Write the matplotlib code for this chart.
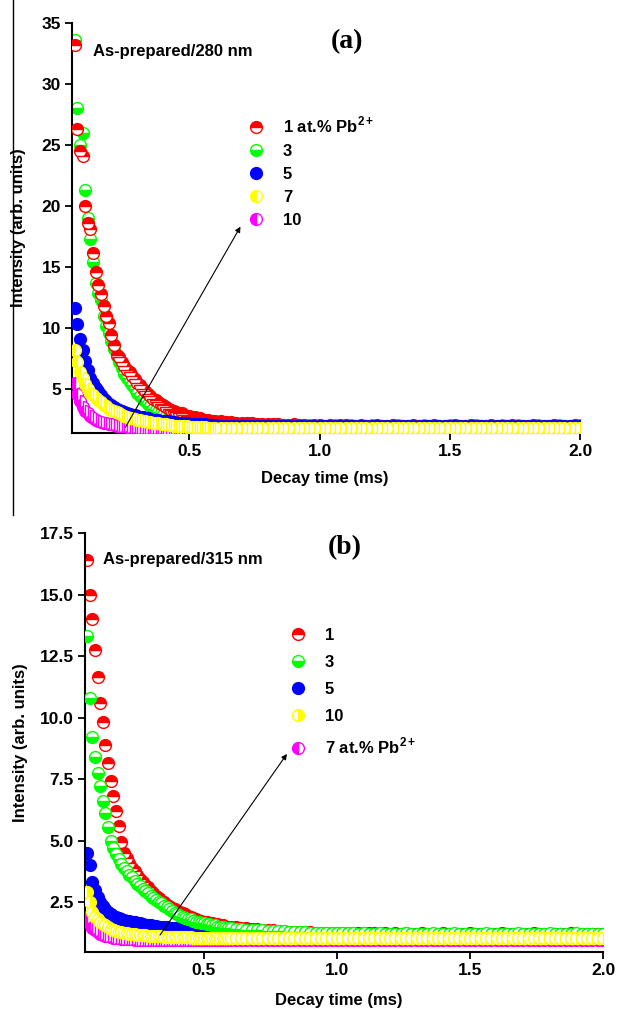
import numpy as np
import matplotlib
matplotlib.use("Agg")
import matplotlib.pyplot as plt
from matplotlib.lines import Line2D

plt.rcParams['font.family'] = ['Liberation Sans', 'DejaVu Sans']
plt.rcParams['font.weight'] = 'bold'
plt.rcParams['mathtext.fontset'] = 'custom'
plt.rcParams['mathtext.bf'] = 'Liberation Sans:bold'
plt.rcParams['mathtext.rm'] = 'Liberation Sans:bold'

# ---------------- data ----------------
# decay times (ms): 0.06..0.60 step 0.01, then 0.62..2.00 step 0.02
TIME = np.round(np.concatenate([np.arange(0.06, 0.6001, 0.01),
                                np.arange(0.62, 2.0001, 0.02)]), 3)

# Panel (a): As-prepared / 280 nm
a_red = [33.2, 26.3, 24.5, 24.1, 20.0, 18.6, 18.1, 16.1, 14.6, 13.5,
         12.8, 11.8, 11.0, 10.4, 9.4, 8.6, 7.8, 7.6, 7.2, 6.9,
         6.6, 6.4, 6.1, 5.8, 5.5, 5.3, 5.0, 4.8, 4.6, 4.4,
         4.2, 4.1, 3.9, 3.8, 3.7, 3.5, 3.4, 3.3, 3.2, 3.1,
         3.0, 3.0, 2.9, 2.8, 2.8, 2.7, 2.7, 2.6, 2.6, 2.5,
         2.5, 2.5, 2.4, 2.4, 2.4,
         2.35, 2.3, 2.3, 2.25, 2.25, 2.2, 2.2, 2.15, 2.15, 2.1,
         2.1, 2.1, 2.05, 2.05, 2.1, 2.05, 2.05, 2.0, 2.05, 2.05,
         2.0, 2.05, 2.0, 2.05, 2.05, 2.0, 2.0, 2.05, 2.0, 2.0,
         2.05, 2.0, 2.0, 2.05, 2.0, 2.0, 2.0, 2.05, 2.0, 2.0,
         2.0, 2.05, 2.0, 2.0, 2.0, 2.05, 2.0, 2.0, 2.05, 2.0,
         2.0, 2.0, 2.05, 2.0, 2.0, 2.0, 2.05, 2.0, 2.0, 2.0,
         2.05, 2.0, 2.0, 2.0, 2.05, 2.0, 2.0, 2.0, 2.05, 2.0]
a_green = [33.6, 28.0, 25.0, 26.0, 21.3, 19.0, 17.3, 15.4, 13.7, 12.9,
           12.3, 11.0, 10.2, 9.6, 8.9, 8.3, 7.7, 7.2, 6.7, 6.2,
           5.9, 5.6, 5.3, 5.0, 4.7, 4.4, 4.2, 4.0, 3.8, 3.6,
           3.4, 3.3, 3.1, 3.0, 2.9, 2.8, 2.7, 2.6, 2.5, 2.5,
           2.4, 2.4, 2.3, 2.3, 2.3, 2.2, 2.2, 2.2, 2.2, 2.15,
           2.15, 2.15, 2.1, 2.1, 2.1,
           2.1, 2.05, 2.05, 2.05, 2.0, 2.05, 2.0, 2.05, 2.0, 2.0,
           2.05, 2.0, 2.0, 2.0, 2.05, 2.0, 2.0, 2.05, 2.0, 2.0,
           2.0, 2.0, 2.05, 2.0, 2.0, 2.05, 2.0, 2.0, 2.0, 2.05,
           2.0, 2.0, 2.0, 2.05, 2.05, 2.0, 2.0, 2.0, 2.0, 2.05,
           2.0, 2.0, 2.0, 2.0, 2.05, 2.0, 2.0, 2.0, 2.05, 2.05,
           2.0, 2.0, 2.0, 2.0, 2.05, 2.0, 2.0, 2.05, 2.0, 2.0,
           2.0, 2.05, 2.0, 2.0, 2.0, 2.05, 2.0, 2.0, 2.0, 2.05]
a_blue = [11.6, 10.3, 9.1, 8.2, 7.3, 6.6, 5.9, 5.5, 5.1, 4.8,
          4.5, 4.2, 4.0, 3.8, 3.7, 3.5, 3.4, 3.3, 3.2, 3.1,
          3.0, 2.95, 2.9, 2.85, 2.8, 2.75, 2.7, 2.65, 2.6, 2.55,
          2.5, 2.5, 2.45, 2.4, 2.4, 2.35, 2.35, 2.3, 2.3, 2.25,
          2.25, 2.2, 2.2, 2.2, 2.15, 2.15, 2.15, 2.1, 2.1, 2.1,
          2.1, 2.05, 2.05, 2.05, 2.05,
          2.0, 2.0, 2.0, 2.0, 1.95, 2.0, 2.0, 1.95, 2.0, 2.0,
          1.95, 2.0, 1.95, 2.0, 1.95, 1.95, 2.0, 1.95, 1.95, 1.95,
          1.95, 1.95, 1.95, 1.95, 1.95, 1.95, 1.95, 1.95, 1.95, 1.95,
          1.95, 1.95, 1.95, 1.95, 1.95, 1.95, 1.95, 1.95, 1.95, 1.95,
          1.95, 1.95, 1.95, 1.95, 1.95, 1.95, 1.95, 1.95, 1.95, 1.95,
          1.95, 1.95, 1.95, 1.95, 1.95, 1.95, 1.95, 1.95, 1.95, 1.95,
          1.95, 1.95, 1.95, 1.95, 1.95, 1.95, 1.95, 1.95, 1.95, 1.95]
a_yellow = [8.2, 7.2, 6.4, 5.9, 5.4, 5.0, 4.7, 4.5, 4.3, 4.1,
            3.9, 3.7, 3.6, 3.4, 3.3, 3.2, 3.1, 3.0, 2.9, 2.8,
            2.7, 2.65, 2.6, 2.55, 2.5, 2.45, 2.4, 2.35, 2.3, 2.3,
            2.25, 2.2, 2.2, 2.15, 2.1, 2.1, 2.05, 2.05, 2.0, 2.0,
            2.0, 1.95, 1.95, 1.95, 1.9, 1.9, 1.9, 1.9, 1.9, 1.9,
            1.9, 1.85, 1.85, 1.85, 1.85,
            1.85, 1.85, 1.85, 1.85, 1.85, 1.85, 1.85, 1.8, 1.85, 1.85,
            1.8, 1.85, 1.85, 1.8, 1.85, 1.8, 1.85, 1.8, 1.85, 1.8,
            1.85, 1.8, 1.8, 1.85, 1.8, 1.8, 1.85, 1.8, 1.8, 1.8,
            1.85, 1.8, 1.8, 1.8, 1.8, 1.85, 1.8, 1.8, 1.8, 1.8,
            1.8, 1.85, 1.8, 1.8, 1.8, 1.8, 1.8, 1.85, 1.8, 1.8,
            1.8, 1.8, 1.8, 1.85, 1.8, 1.8, 1.8, 1.8, 1.8, 1.85,
            1.8, 1.8, 1.8, 1.8, 1.8, 1.85, 1.8, 1.8, 1.8, 1.8]
a_magenta = [5.5, 4.6, 4.0, 3.5, 3.2, 3.0, 2.8, 2.6, 2.5, 2.4,
             2.3, 2.25, 2.2, 2.15, 2.1, 2.05, 2.0, 2.0, 1.95, 1.95,
             1.9, 1.9, 1.9, 1.85, 1.85, 1.85, 1.85, 1.8, 1.8, 1.8,
             1.8, 1.8, 1.8, 1.8, 1.75, 1.75, 1.75, 1.75, 1.75, 1.75,
             1.75, 1.75, 1.75, 1.75, 1.75, 1.75, 1.75, 1.75, 1.75, 1.75,
             1.75, 1.75, 1.75, 1.75, 1.75,
             1.75, 1.75, 1.75, 1.75, 1.75, 1.75, 1.75, 1.75, 1.75, 1.75,
             1.75, 1.75, 1.75, 1.75, 1.75, 1.75, 1.75, 1.75, 1.75, 1.75,
             1.75, 1.75, 1.75, 1.75, 1.75, 1.75, 1.75, 1.75, 1.75, 1.75,
             1.75, 1.75, 1.75, 1.75, 1.75, 1.75, 1.75, 1.75, 1.75, 1.75,
             1.75, 1.75, 1.75, 1.75, 1.75, 1.75, 1.75, 1.75, 1.75, 1.75,
             1.75, 1.75, 1.75, 1.75, 1.75, 1.75, 1.75, 1.75, 1.75, 1.75,
             1.75, 1.75, 1.75, 1.75, 1.75, 1.75, 1.75, 1.75, 1.75, 1.75]

# Panel (b): As-prepared / 315 nm
b_red = [16.4, 15.0, 14.0, 12.75, 11.65, 10.6, 9.8, 8.9, 8.15, 7.4,
         6.8, 6.2, 5.6, 4.95, 4.5, 4.3, 4.1, 3.9, 3.75, 3.6,
         3.45, 3.3, 3.2, 3.1, 2.95, 2.85, 2.75, 2.65, 2.55, 2.5,
         2.4, 2.35, 2.25, 2.2, 2.15, 2.1, 2.05, 2.0, 1.95, 1.9,
         1.85, 1.8, 1.75, 1.75, 1.7, 1.7, 1.65, 1.65, 1.6, 1.6,
         1.55, 1.55, 1.5, 1.5, 1.5,
         1.48, 1.46, 1.44, 1.42, 1.4, 1.38, 1.36, 1.35, 1.34, 1.32,
         1.3, 1.3, 1.28, 1.28, 1.27, 1.26, 1.25, 1.25, 1.25, 1.24,
         1.24, 1.25, 1.24, 1.23, 1.24, 1.23, 1.23, 1.24, 1.23, 1.22,
         1.23, 1.22, 1.23, 1.22, 1.22, 1.23, 1.22, 1.22, 1.22, 1.23,
         1.22, 1.22, 1.22, 1.22, 1.23, 1.22, 1.22, 1.22, 1.22, 1.22,
         1.23, 1.22, 1.22, 1.22, 1.22, 1.22, 1.23, 1.22, 1.22, 1.22,
         1.22, 1.22, 1.22, 1.23, 1.22, 1.22, 1.22, 1.22, 1.22, 1.22]
b_green = [13.3, 10.8, 9.2, 8.4, 7.75, 7.2, 6.6, 6.1, 5.55, 5.0,
           4.7, 4.45, 4.25, 4.05, 3.9, 3.75, 3.6, 3.5, 3.35, 3.25,
           3.15, 3.05, 2.95, 2.85, 2.75, 2.65, 2.6, 2.5, 2.45, 2.35,
           2.3, 2.2, 2.15, 2.05, 2.0, 1.95, 1.9, 1.85, 1.8, 1.8,
           1.75, 1.7, 1.7, 1.65, 1.65, 1.6, 1.6, 1.55, 1.55, 1.5,
           1.5, 1.5, 1.45, 1.45, 1.45,
           1.42, 1.4, 1.38, 1.37, 1.36, 1.35, 1.34, 1.33, 1.32, 1.31,
           1.3, 1.29, 1.28, 1.27, 1.26, 1.26, 1.25, 1.25, 1.24, 1.24,
           1.23, 1.23, 1.23, 1.22, 1.23, 1.22, 1.22, 1.23, 1.22, 1.22,
           1.22, 1.22, 1.23, 1.22, 1.22, 1.22, 1.22, 1.23, 1.22, 1.22,
           1.22, 1.23, 1.22, 1.22, 1.22, 1.22, 1.22, 1.23, 1.22, 1.22,
           1.22, 1.22, 1.22, 1.23, 1.22, 1.22, 1.22, 1.22, 1.22, 1.23,
           1.22, 1.22, 1.22, 1.22, 1.23, 1.22, 1.22, 1.22, 1.22, 1.22]
b_blue = [4.5, 4.0, 3.3, 3.0, 2.7, 2.5, 2.35, 2.2, 2.1, 2.0,
          1.95, 1.9, 1.85, 1.8, 1.78, 1.75, 1.72, 1.7, 1.68, 1.65,
          1.63, 1.6, 1.58, 1.56, 1.55, 1.53, 1.52, 1.5, 1.49, 1.48,
          1.47, 1.46, 1.45, 1.44, 1.43, 1.42, 1.41, 1.4, 1.39, 1.38,
          1.37, 1.36, 1.35, 1.35, 1.34, 1.33, 1.33, 1.32, 1.32, 1.31,
          1.31, 1.3, 1.3, 1.29, 1.29,
          1.28, 1.27, 1.26, 1.25, 1.24, 1.23, 1.22, 1.21, 1.2, 1.2,
          1.2, 1.2, 1.2, 1.2, 1.2, 1.2, 1.2, 1.2, 1.2, 1.2,
          1.2, 1.2, 1.2, 1.2, 1.2, 1.2, 1.2, 1.2, 1.2, 1.2,
          1.2, 1.2, 1.2, 1.2, 1.2, 1.2, 1.2, 1.2, 1.2, 1.2,
          1.2, 1.2, 1.2, 1.2, 1.2, 1.2, 1.2, 1.2, 1.2, 1.2,
          1.2, 1.2, 1.2, 1.2, 1.2, 1.2, 1.2, 1.2, 1.2, 1.2,
          1.2, 1.2, 1.2, 1.2, 1.2, 1.2, 1.2, 1.2, 1.2, 1.2]
b_yellow = [2.9, 2.5, 2.1, 1.9, 1.8, 1.7, 1.62, 1.55, 1.48, 1.42,
            1.38, 1.34, 1.3, 1.28, 1.26, 1.24, 1.22, 1.2, 1.19, 1.18,
            1.17, 1.16, 1.15, 1.14, 1.13, 1.12, 1.11, 1.1, 1.1, 1.09,
            1.09, 1.08, 1.08, 1.07, 1.07, 1.07, 1.06, 1.06, 1.06, 1.06,
            1.05, 1.05, 1.05, 1.05, 1.05, 1.05, 1.05, 1.05, 1.05, 1.05,
            1.05, 1.05, 1.05, 1.05, 1.05,
            1.05, 1.05, 1.05, 1.05, 1.05, 1.05, 1.05, 1.05, 1.05, 1.05,
            1.05, 1.05, 1.05, 1.05, 1.05, 1.05, 1.05, 1.05, 1.05, 1.05,
            1.05, 1.05, 1.05, 1.05, 1.05, 1.05, 1.05, 1.05, 1.05, 1.05,
            1.05, 1.05, 1.05, 1.05, 1.05, 1.05, 1.05, 1.05, 1.05, 1.05,
            1.05, 1.05, 1.05, 1.05, 1.05, 1.05, 1.05, 1.05, 1.05, 1.05,
            1.05, 1.05, 1.05, 1.05, 1.05, 1.05, 1.05, 1.05, 1.05, 1.05,
            1.05, 1.05, 1.05, 1.05, 1.05, 1.05, 1.05, 1.05, 1.05, 1.05]
b_magenta = [1.9, 1.6, 1.45, 1.35, 1.28, 1.22, 1.17, 1.13, 1.1, 1.07,
             1.05, 1.03, 1.02, 1.01, 1.0, 0.99, 0.98, 0.98, 0.97, 0.97,
             0.97, 0.97, 0.97, 0.97, 0.97, 0.97, 0.97, 0.97, 0.97, 0.97,
             0.97, 0.97, 0.97, 0.97, 0.97, 0.97, 0.97, 0.97, 0.97, 0.97,
             0.97, 0.97, 0.97, 0.97, 0.97, 0.97, 0.97, 0.97, 0.97, 0.97,
             0.97, 0.97, 0.97, 0.97, 0.97,
             0.97, 0.97, 0.97, 0.97, 0.97, 0.97, 0.97, 0.97, 0.97, 0.97,
             0.97, 0.97, 0.97, 0.97, 0.97, 0.97, 0.97, 0.97, 0.97, 0.97,
             0.97, 0.97, 0.97, 0.97, 0.97, 0.97, 0.97, 0.97, 0.97, 0.97,
             0.97, 0.97, 0.97, 0.97, 0.97, 0.97, 0.97, 0.97, 0.97, 0.97,
             0.97, 0.97, 0.97, 0.97, 0.97, 0.97, 0.97, 0.97, 0.97, 0.97,
             0.97, 0.97, 0.97, 0.97, 0.97, 0.97, 0.97, 0.97, 0.97, 0.97,
             0.97, 0.97, 0.97, 0.97, 0.97, 0.97, 0.97, 0.97, 0.97, 0.97]

A_LABELS = ['1 at.% Pb$^{\\mathbf{2+}}$', '3', '5', '7', '10']
B_LABELS = ['1', '3', '5', '10', '7 at.% Pb$^{\\mathbf{2+}}$']
A_XTICKS = [0.5, 1.0, 1.5, 2.0]
A_YTICKS = [5, 10, 15, 20, 25, 30, 35]
B_XTICKS = [0.5, 1.0, 1.5, 2.0]
B_YTICKS = [2.5, 5.0, 7.5, 10.0, 12.5, 15.0, 17.5]

RED, GREEN, BLUE, YELLOW, MAGENTA = '#ff0000', '#00ff00', '#0000ff', '#ffff00', '#ff00ff'

W, H = 618, 1014
fig = plt.figure(figsize=(W / 100, H / 100), dpi=100)


def axes_px(l, t, r, b):
    return fig.add_axes([l / W, 1 - b / H, (r - l) / W, (b - t) / H])


def style(ax, xlim, ylim, xt, yt, yfmt):
    ax.set_xlim(*xlim)
    ax.set_ylim(*ylim)
    ax.set_xticks(xt)
    ax.set_xticklabels(['%.1f' % v for v in xt])
    ax.set_yticks(yt)
    ax.set_yticklabels([yfmt % v for v in yt])
    for s in ['top', 'right']:
        ax.spines[s].set_visible(False)
    for s in ['left', 'bottom']:
        ax.spines[s].set_linewidth(1.5)
    ax.tick_params(direction='out', length=5, width=1.3, labelsize=12.5, pad=3)
    for lab in ax.get_xticklabels() + ax.get_yticklabels():
        lab.set_fontweight('bold')
    ax.set_facecolor('none')


def series(ax, y, color, fs, z):
    (ln,) = ax.plot(TIME, y, linestyle='none', marker='o', markersize=8.5,
                    markeredgewidth=1.0, color=color, markeredgecolor=color,
                    markerfacecolor=color, markerfacecoloralt='white',
                    fillstyle=fs, zorder=z)
    return ln


# ---------------- panel (a) ----------------
axa = axes_px(72, 22.7, 580, 433)
style(axa, (0.049, 2.0), (1.4, 35), A_XTICKS, A_YTICKS, '%d')
hg = series(axa, a_green, GREEN, 'bottom', 2)
hr = series(axa, a_red, RED, 'top', 3)
hb = series(axa, a_blue, BLUE, 'full', 4)
hm = series(axa, a_magenta, MAGENTA, 'left', 5)
hy = series(axa, a_yellow, YELLOW, 'left', 6)
axa.legend([hr, hg, hb, hy, hm], A_LABELS, loc='upper left',
           bbox_to_anchor=(0.346, 0.775), frameon=False,
           prop={'weight': 'bold', 'size': 12}, handlelength=1.0,
           handletextpad=1.1, labelspacing=0.49, borderpad=0,
           borderaxespad=0, numpoints=1)
axa.text(0.041, 0.929, 'As-prepared/280 nm', transform=axa.transAxes,
         ha='left', va='center', fontsize=12, fontweight='bold')
axa.text(0.541, 0.953, '(a)', transform=axa.transAxes, ha='center',
         va='center', fontsize=20, fontweight='bold', family='Liberation Serif')
axa.annotate('', xy=(0.696, 18.3), xytext=(0.254, 1.86),
             arrowprops=dict(arrowstyle='-|>', lw=0.8, color='black',
                             mutation_scale=8, shrinkA=0, shrinkB=0), zorder=10)
axa.set_xlabel('Decay time (ms)', fontsize=12, fontweight='bold')
axa.set_ylabel('Intensity (arb. units)', fontsize=12, fontweight='bold')
axa.xaxis.set_label_coords(0.498, -0.093)
axa.yaxis.set_label_coords(-0.09, 0.5)

# ---------------- panel (b) ----------------
axb = axes_px(85, 533, 603, 952)
style(axb, (0.053, 2.0), (0.47, 17.5), B_XTICKS, B_YTICKS, '%.1f')
hb2 = series(axb, b_blue, BLUE, 'full', 1)
hr2 = series(axb, b_red, RED, 'top', 2)
hg2 = series(axb, b_green, GREEN, 'bottom', 3)
hm2 = series(axb, b_magenta, MAGENTA, 'left', 5)
hy2 = series(axb, b_yellow, YELLOW, 'right', 6)
axb.legend([hr2, hg2, hb2, hy2, hm2], B_LABELS, loc='upper left',
           bbox_to_anchor=(0.395, 0.773), frameon=False,
           prop={'weight': 'bold', 'size': 12}, handlelength=1.0,
           handletextpad=1.1, labelspacing=0.72, borderpad=0,
           borderaxespad=0, numpoints=1)
axb.text(0.035, 0.936, 'As-prepared/315 nm', transform=axb.transAxes,
         ha='left', va='center', fontsize=12, fontweight='bold')
axb.text(0.502, 0.964, '(b)', transform=axb.transAxes, ha='center',
         va='center', fontsize=20, fontweight='bold', family='Liberation Serif')
axb.annotate('', xy=(0.812, 8.52), xytext=(0.335, 1.16),
             arrowprops=dict(arrowstyle='-|>', lw=0.8, color='black',
                             mutation_scale=8, shrinkA=0, shrinkB=0), zorder=10)
axb.set_xlabel('Decay time (ms)', fontsize=12, fontweight='bold')
axb.set_ylabel('Intensity (arb. units)', fontsize=12, fontweight='bold')
axb.xaxis.set_label_coords(0.49, -0.098)
axb.yaxis.set_label_coords(-0.11, 0.5)

# page edge line on the left of panel (a)
fig.add_artist(Line2D([13 / W, 13 / W], [1 - 515 / H, 1.0], color='black', lw=1.0))

fig.savefig('out.png', dpi=100)
